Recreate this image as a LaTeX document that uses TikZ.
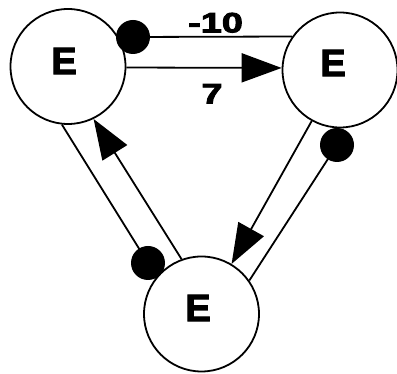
\documentclass[tikz,border=0pt]{standalone}
\usepackage{fontspec}
\newfontfamily\heavy{Liberation Sans}[UprightFont={* Bold},FakeBold=3]
\usetikzlibrary{arrows.meta,calc}
\newcommand{\wide}[1]{\scalebox{1.35}[1]{#1}}
\begin{document}
\begin{tikzpicture}[x=1pt,y=1pt,
  state/.style={circle,draw,line width=1.8pt,minimum size=115pt,inner sep=0pt},
  elbl/.style={font=\heavy\fontsize{38}{38}\selectfont,inner sep=0pt},
  wlbl/.style={font=\heavy\fontsize{28}{28}\selectfont,inner sep=0pt},
  conn/.style={line width=1.8pt},
  excite/.style={conn,-{Triangle[length=40pt,width=29pt]}},
  dot/.style={circle,fill=black,minimum size=34pt,inner sep=0pt}]
\useasboundingbox (0,0) rectangle (397,374);
\node[state] (L) at (68,307.5) {};
\node[state] (R) at (340,304) {};
\node[state] (B) at (201.5,60) {};
\node[elbl] (eL) at ($(L)+(-4,5.5)$) {E};
\node[elbl] (eR) at ($(R)+(-7,7)$) {E};
\node[elbl] (eB) at ($(B)+(-3.5,6)$) {E};
\node[dot] (d1) at ($(L)+(65,29.5)$) {};
\node[dot] (d2) at ($(R)+(-3,-75)$) {};
\node[dot] (d3) at ($(B)+(-53.5,51)$) {};
\draw[conn] (d1.center) -- node[wlbl,xshift=3pt,yshift=14pt]{\wide{-10}} (R.145.5);
\draw[excite] (L.-1.5) -- node[wlbl,xshift=8pt,yshift=-26pt]{\wide{7}} (R.178);
\draw[conn] (L.264) -- (d3.center);
\draw[excite] (B.110.7) -- (L.-64);
\draw[conn] (B.35.5) -- (d2.center);
\draw[excite] (R.241.4) -- (B.59.1);
\end{tikzpicture}
\end{document}
